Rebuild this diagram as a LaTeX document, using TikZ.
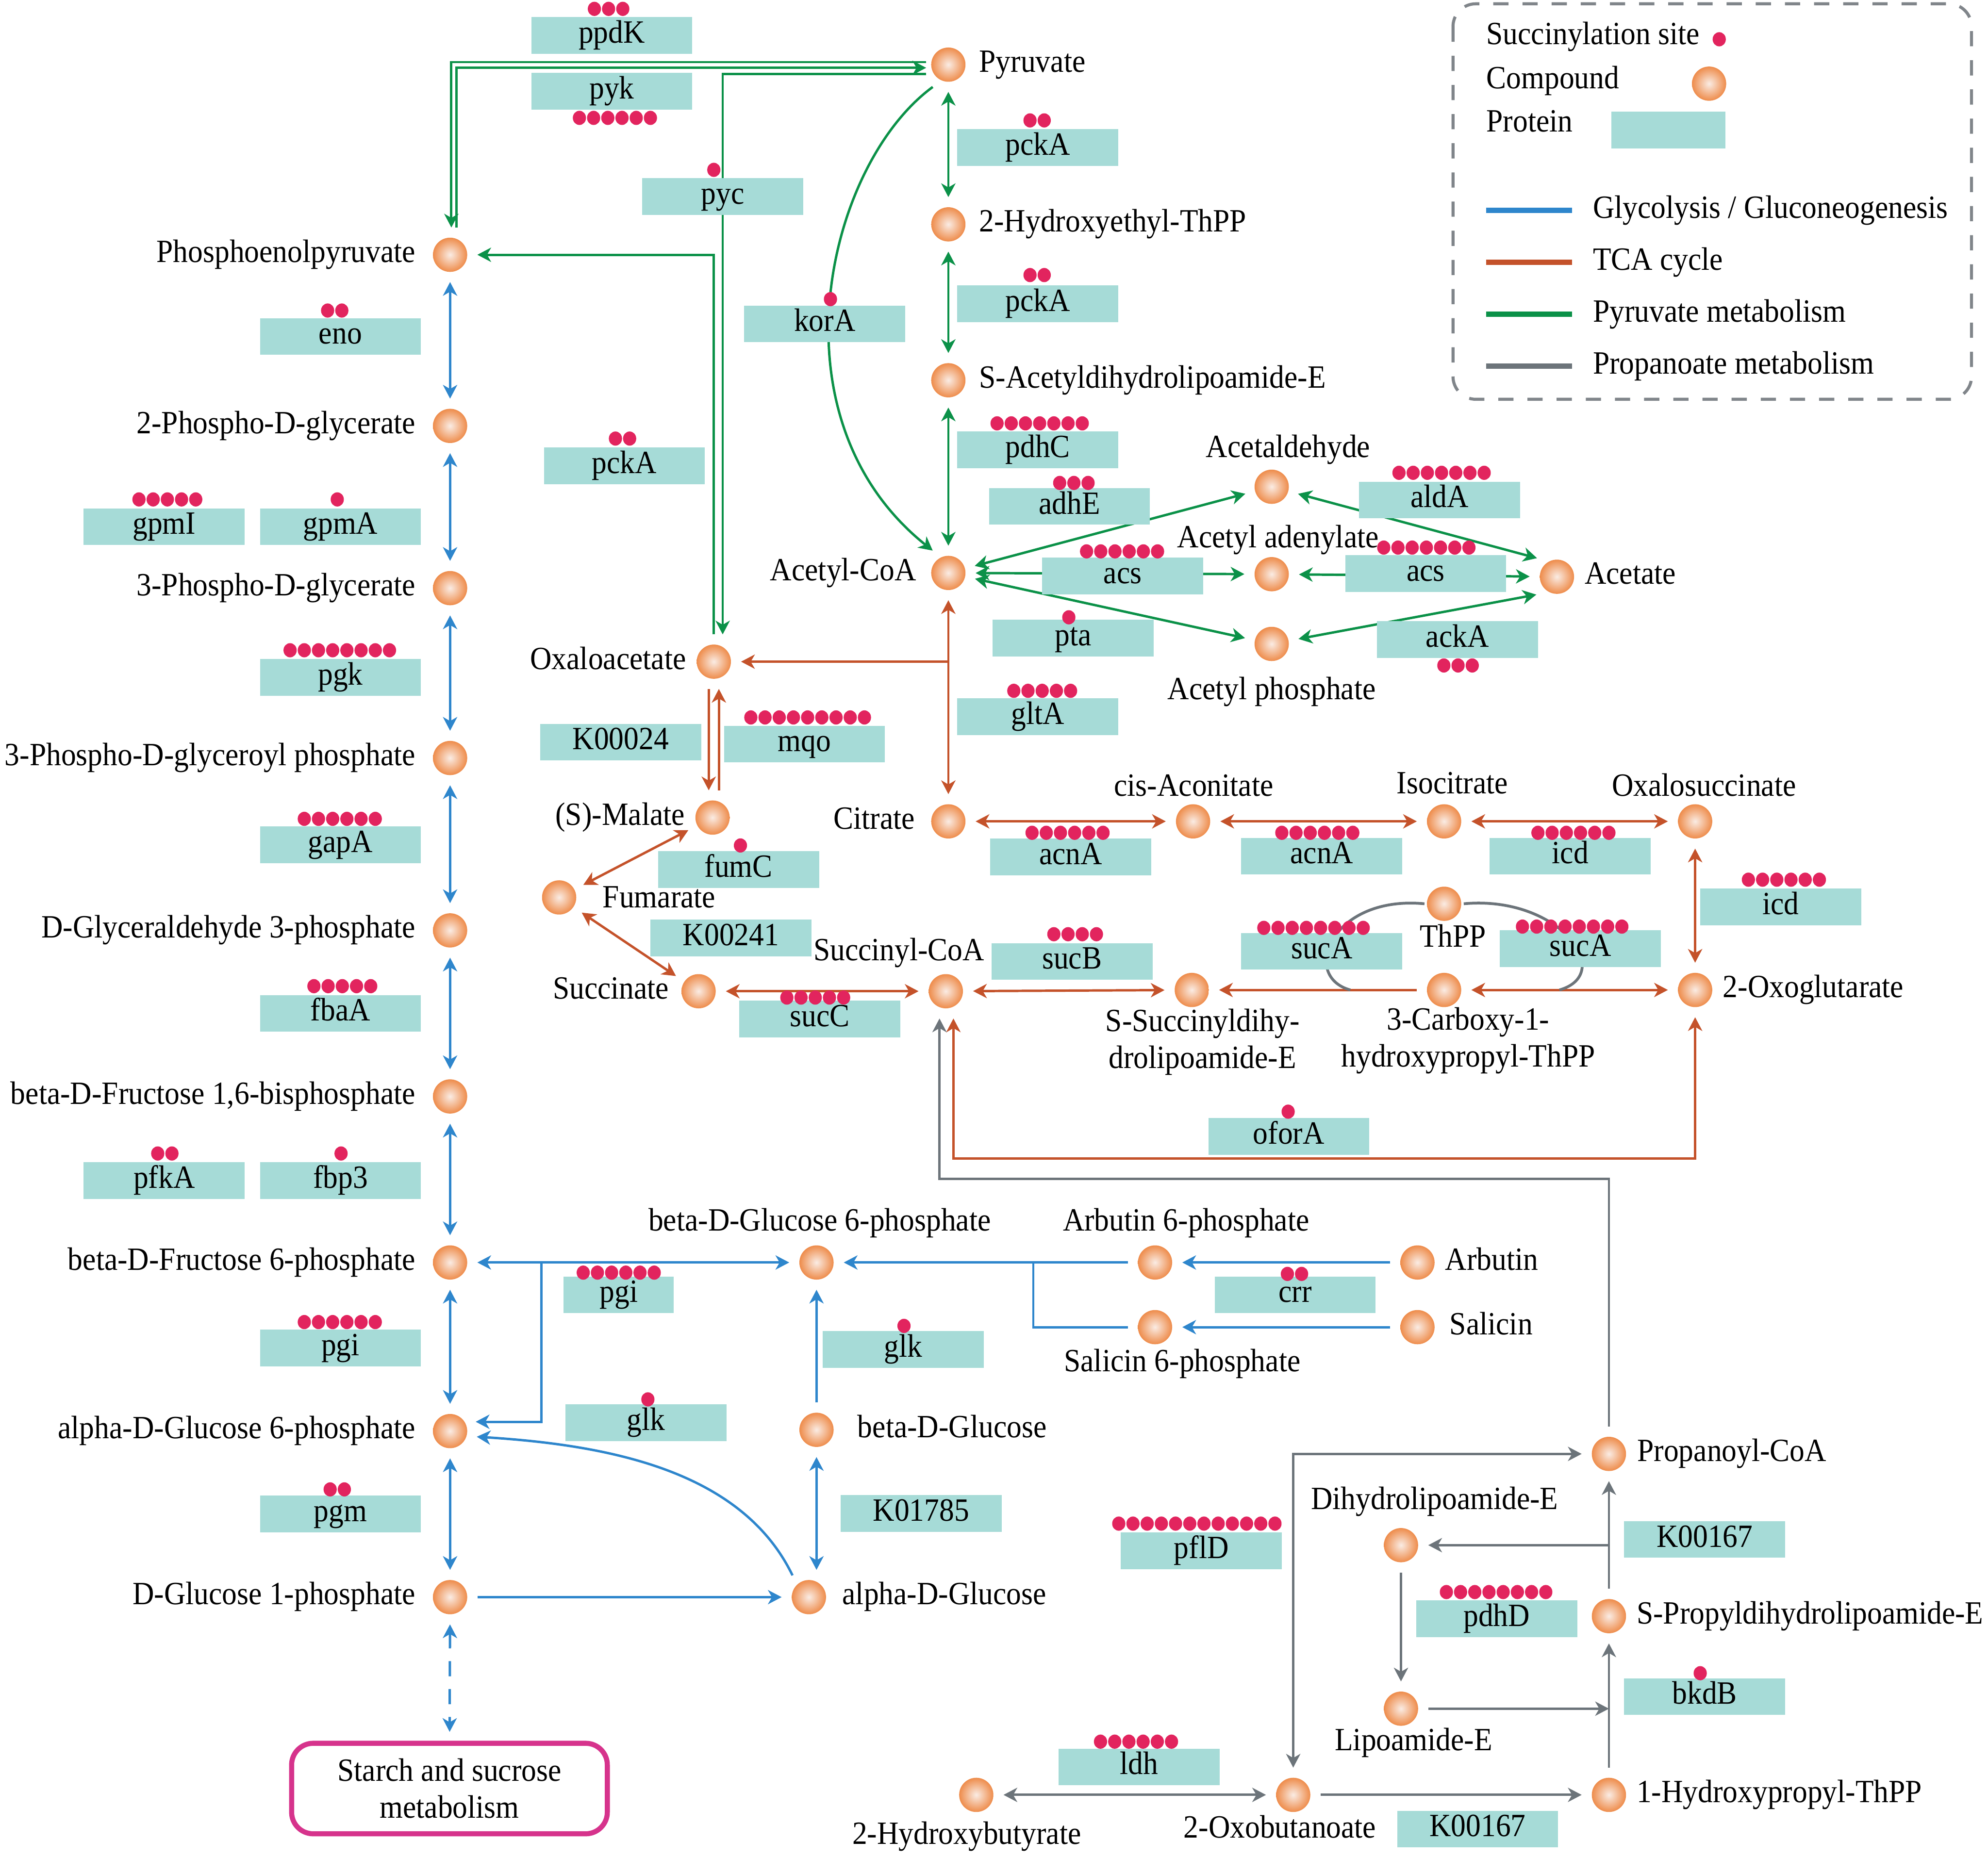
\documentclass[tikz,border=0pt]{standalone}
\usepackage{fontspec}
\setmainfont{Liberation Serif}[FakeStretch=0.92]
\usetikzlibrary{arrows.meta,positioning}

\definecolor{glycblue}{RGB}{46,134,204}
\definecolor{tcaorange}{RGB}{196,82,42}
\definecolor{pyrgreen}{RGB}{11,145,72}
\definecolor{propgray}{RGB}{108,116,122}
\definecolor{protfill}{RGB}{166,219,215}
\definecolor{sitered}{RGB}{226,36,94}
\definecolor{ballout}{RGB}{238,140,75}
\definecolor{ballin}{RGB}{250,236,228}
\definecolor{starchpink}{RGB}{214,51,140}
\definecolor{legendgray}{RGB}{128,133,138}

\newcommand{\mapfont}{\fontsize{12.8}{14.5}\selectfont}
\tikzset{
  cpd/.style={circle, minimum size=13.5pt, inner sep=0pt, outer sep=4pt,
    shading=radial, inner color=ballin, outer color=ballout},
  lbl/.style={font=\mapfont, inner sep=0pt, text height=8.7pt, text depth=2.8pt},
  lbltwo/.style={font=\mapfont, inner sep=0pt, align=center},
  prot/.style={fill=protfill, minimum width=63.5pt, minimum height=14.5pt,
    inner sep=0pt, font=\mapfont, text height=8.7pt, text depth=2.8pt},
  conn/.style={line width=0.95pt, >={Stealth[length=5.4pt,width=5.6pt,inset=1.6pt]}},
  glyc/.style={conn, glycblue},
  tca/.style={conn, tcaorange},
  pyrm/.style={conn, pyrgreen},
  prop/.style={conn, propgray},
}
% a row of succinylation sites: count, centre x, y
\newcommand{\sites}[3]{%
  \foreach \k in {1,...,#1}
    \fill[sitered] ({#2+(\k-(#1+1)/2)*11.2},#3) circle[x radius=2.6pt, y radius=2.8pt];}

\begin{document}
\begin{tikzpicture}[x=0.5pt, y=-0.5pt]
  \useasboundingbox (0,0) rectangle (1568,1465);

  % compounds
  \node[cpd] (pyr) at (748,51) {};
  \node[cpd] (hethpp) at (748,177) {};
  \node[cpd] (sacet) at (748,300) {};
  \node[cpd] (accoa) at (748,452) {};
  \node[cpd] (acald) at (1003,384) {};
  \node[cpd] (acadn) at (1003,453) {};
  \node[cpd] (acet) at (1228,455) {};
  \node[cpd] (acp) at (1003,508) {};
  \node[cpd] (pep) at (355,201) {};
  \node[cpd] (pg2) at (355,336) {};
  \node[cpd] (pg3) at (355,464) {};
  \node[cpd] (bpg) at (355,598) {};
  \node[cpd] (gald) at (355,734) {};
  \node[cpd] (fbp) at (355,865) {};
  \node[cpd] (f6p) at (355,996) {};
  \node[cpd] (ag6p) at (355,1129) {};
  \node[cpd] (g1p) at (355,1260) {};
  \node[cpd] (oaa) at (563,522) {};
  \node[cpd] (mal) at (562,645) {};
  \node[cpd] (fum) at (441,708) {};
  \node[cpd] (suc) at (551,782) {};
  \node[cpd] (succoa) at (746,782) {};
  \node[cpd] (cit) at (748,648) {};
  \node[cpd] (cisac) at (941,648) {};
  \node[cpd] (icit) at (1139,648) {};
  \node[cpd] (oxs) at (1337,648) {};
  \node[cpd] (ogl) at (1337,781) {};
  \node[cpd] (thpp) at (1139,713) {};
  \node[cpd] (chpthpp) at (1139,781) {};
  \node[cpd] (ssdl) at (940,781) {};
  \node[cpd] (bg6p) at (644,996) {};
  \node[cpd] (arb6p) at (911,996) {};
  \node[cpd] (sal6p) at (911,1047) {};
  \node[cpd] (arb) at (1118,996) {};
  \node[cpd] (sal) at (1118,1047) {};
  \node[cpd] (bglc) at (644,1128) {};
  \node[cpd] (aglc) at (638,1260) {};
  \node[cpd] (ppcoa) at (1269,1147) {};
  \node[cpd] (dhl) at (1105,1219) {};
  \node[cpd] (spdl) at (1269,1275) {};
  \node[cpd] (lipe) at (1105,1348) {};
  \node[cpd] (hpthpp) at (1269,1416) {};
  \node[cpd] (oxb) at (1020,1416) {};
  \node[cpd] (hbut) at (770,1416) {};
  \node[draw=starchpink, line width=2pt, rounded corners=8.5pt, minimum width=124.5pt,
    minimum height=35.7pt, align=center, font=\mapfont] (starch) at (354.5,1411)
    {Starch and sucrose\\metabolism};

  % compound names
  \node[lbl, right=1.25pt of pyr] (pyr-t) {Pyruvate};
  \node[lbl, right=1.25pt of hethpp] (hethpp-t) {2-Hydroxyethyl-ThPP};
  \node[lbl, right=1.25pt of sacet] (sacet-t) {S-Acetyldihydrolipoamide-E};
  \node[lbl, left=1.75pt of accoa] (accoa-t) {Acetyl-CoA};
  \node[lbl] (acald-t) at (1016,355) {Acetaldehyde};
  \node[lbl] (acadn-t) at (1008,426) {Acetyl adenylate};
  \node[lbl] (acp-t) at (1003,546) {Acetyl phosphate};
  \node[lbl, right=0pt of acet] (acet-t) {Acetate};
  \node[lbl, left=2.75pt of pep] (pep-t) {Phosphoenolpyruvate};
  \node[lbl, left=2.75pt of pg2] (pg2-t) {2-Phospho-D-glycerate};
  \node[lbl, left=2.75pt of pg3] (pg3-t) {3-Phospho-D-glycerate};
  \node[lbl, left=2.75pt of bpg] (bpg-t) {3-Phospho-D-glyceroyl phosphate};
  \node[lbl, left=2.75pt of gald] (gald-t) {D-Glyceraldehyde 3-phosphate};
  \node[lbl, left=2.75pt of fbp] (fbp-t) {beta-D-Fructose 1,6-bisphosphate};
  \node[lbl, left=2.75pt of f6p] (f6p-t) {beta-D-Fructose 6-phosphate};
  \node[lbl, left=2.75pt of ag6p] (ag6p-t) {alpha-D-Glucose 6-phosphate};
  \node[lbl, left=2.75pt of g1p] (g1p-t) {D-Glucose 1-phosphate};
  \node[lbl, left=0pt of oaa] (oaa-t) {Oxaloacetate};
  \node[lbl, left=0pt of mal] (mal-t) {(S)-Malate};
  \node[lbl, right=6.25pt of fum, yshift=-1pt] (fum-t) {Fumarate};
  \node[lbl, left=0.75pt of suc] (suc-t) {Succinate};
  \node[lbl] (succoa-t) at (709,752) {Succinyl-CoA};
  \node[lbl, left=2.25pt of cit] (cit-t) {Citrate};
  \node[lbl] (cisac-t) at (941.5,622) {cis-Aconitate};
  \node[lbl] (icit-t) at (1145.5,620) {Isocitrate};
  \node[lbl] (oxs-t) at (1344,622) {Oxalosuccinate};
  \node[lbl, right=0pt of ogl] (ogl-t) {2-Oxoglutarate};
  \node[lbl] (thpp-t) at (1146,741) {ThPP};
  \node[lbltwo] (ssdl-t) at (948.5,822) {S-Succinyldihy-\\drolipoamide-E};
  \node[lbltwo] (chpthpp-t) at (1158,821) {3-Carboxy-1-\\hydroxypropyl-ThPP};
  \node[lbl] (bg6p-t) at (646.5,965) {beta-D-Glucose 6-phosphate};
  \node[lbl] (arb6p-t) at (935.5,965) {Arbutin 6-phosphate};
  \node[lbl] (sal6p-t) at (932.5,1076) {Salicin 6-phosphate};
  \node[lbl, right=0pt of arb] (arb-t) {Arbutin};
  \node[lbl, right=1.75pt of sal] (sal-t) {Salicin};
  \node[lbl, right=5.25pt of bglc] (bglc-t) {beta-D-Glucose};
  \node[lbl, right=2.25pt of aglc] (aglc-t) {alpha-D-Glucose};
  \node[lbl, right=0.25pt of ppcoa] (ppcoa-t) {Propanoyl-CoA};
  \node[lbl] (dhl-t) at (1131.5,1185) {Dihydrolipoamide-E};
  \node[lbl, right=0pt of spdl] (spdl-t) {S-Propyldihydrolipoamide-E};
  \node[lbl] (lipe-t) at (1115,1375) {Lipoamide-E};
  \node[lbl, right=0pt of hpthpp] (hpthpp-t) {1-Hydroxypropyl-ThPP};
  \node[lbl] (oxb-t) at (1009.5,1444) {2-Oxobutanoate};
  \node[lbl] (hbut-t) at (762.5,1449) {2-Hydroxybutyrate};

  % glycolysis / gluconeogenesis
  \foreach \a/\b in {pep/pg2, pg2/pg3, pg3/bpg, bpg/gald, gald/fbp, fbp/f6p,
      f6p/ag6p, ag6p/g1p, f6p/bg6p}
    \draw[glyc,<->] (\a) -- (\b);
  \draw[glyc,<->,dash pattern=on 6pt off 5pt,shorten >=3.5pt] (g1p) -- (starch);
  \coordinate (pgiJ) at (427,996);
  \draw[glyc,->] (pgiJ) |- (ag6p.20);
  \draw[glyc,->] (aglc.127) .. controls (585,1160) and (480,1140) .. (ag6p.-12);
  \draw[glyc,->] (bglc) -- (bg6p);
  \draw[glyc,<->] (bglc.south) -- (bglc.south |- aglc.north);
  \draw[glyc,->] (g1p) -- (aglc);
  \draw[glyc,->] (arb6p) -- (bg6p);
  \coordinate (crrJ) at (815,996);
  \draw[glyc] (sal6p) -| (crrJ);
  \draw[glyc,->] (arb) -- (arb6p);
  \draw[glyc,->] (sal) -- (sal6p);

  % TCA cycle
  \foreach \a/\b in {accoa/cit, cit/cisac, cisac/icit, icit/oxs, oxs/ogl,
      ogl/chpthpp, succoa/ssdl, suc/succoa, suc/fum, fum/mal}
    \draw[tca,<->] (\a) -- (\b);
  \draw[tca,->] (chpthpp) -- (ssdl);
  \coordinate (citJ) at (748,522);
  \draw[tca,->] (citJ) -- (oaa);
  \coordinate (mqoL) at ([xshift=-2pt]oaa.south);
  \coordinate (mqoR) at ([xshift=2pt]oaa.south);
  \draw[tca,->] (mqoL) -- (mqoL |- mal.north);
  \draw[tca,->] (mqoR |- mal.north) -- (mqoR);
  \coordinate (oforJ) at (752,914);
  \draw[tca,<->] (succoa.south -| oforJ) -- (oforJ) -| (ogl.south);

  % pyruvate metabolism
  \foreach \a/\b in {pyr/hethpp, hethpp/sacet, sacet/accoa, accoa/acald,
      accoa/acadn, accoa/acp, acadn/acet}
    \draw[pyrm,<->] (\a) -- (\b);
  \draw[pyrm,<->] (acald) -- (acet.137);
  \draw[pyrm,<->] (acp) -- (acet.-139);
  \draw[pyrm,->] (pyr.235) .. controls (652,130) and (605,330) .. (accoa.125);
  \coordinate (pyrW) at ([xshift=2pt]pyr.west);
  \coordinate (ppdkJ) at (356,49);
  \coordinate (pykJ) at (360,53.5);
  \coordinate (pycJ) at (570,58.5);
  \draw[pyrm,->] (pyrW |- ppdkJ) -- (ppdkJ) -- (ppdkJ |- pep.north);
  \draw[pyrm,->] (pep.north -| pykJ) -- (pykJ) -- (pyrW |- pykJ);
  \draw[pyrm,->] (pyrW |- pycJ) -- (pycJ) -- (pycJ |- oaa.north);
  \draw[pyrm,->] (oaa.north) |- (pep.east);

  % propanoate metabolism
  \coordinate (ppJ) at (741,930);
  \draw[prop,->] (ppcoa.north) |- (ppJ) -- (ppJ |- succoa.south);
  \coordinate (thppW) at ([xshift=3pt]thpp.west);
  \coordinate (thppE) at ([xshift=-3pt]thpp.east);
  \coordinate (thppL) at (1065,781);
  \coordinate (thppR) at (1230,781);
  \draw[prop,line width=1.1pt] (thppW) .. controls (1050,706) and (1025,770) .. (thppL);
  \draw[prop,line width=1.1pt] (thppE) .. controls (1230,706) and (1275,768) .. (thppR);
  \draw[prop,->] (oxb) -- (hpthpp);
  \draw[prop,<->] (hbut) -- (oxb);
  \draw[prop,->] (hpthpp) -- (spdl);
  \draw[prop,->] (spdl) -- (ppcoa);
  \coordinate (kJ) at (1269,1219);
  \draw[prop,->] (kJ) -- (dhl);
  \draw[prop,->] (dhl) -- (lipe);
  \draw[prop,->] (lipe) -- (lipe -| spdl);
  \draw[prop,<->] (oxb.north) |- (ppcoa.west);

  % proteins
  \node[prot] (ppdK) at (482.5,28) {ppdK};          \sites{3}{480}{7}
  \node[prot] (pyk) at (482.5,72) {pyk};            \sites{6}{485}{93}
  \node[prot] (pyc) at (570,155) {pyc};             \sites{1}{563}{134}
  \node[prot] (korA) at (650.5,255.5) {korA};       \sites{1}{655}{236}
  \node[prot] (pckA-a) at (818.5,116.5) {pckA};     \sites{2}{818}{95}
  \node[prot] (pckA-b) at (818.5,239.5) {pckA};     \sites{2}{818}{217}
  \node[prot] (pdhC) at (818.5,355) {pdhC};         \sites{7}{820}{334}
  \node[prot] (adhE) at (843.5,399.5) {adhE};       \sites{3}{847}{381}
  \node[prot] (aldA) at (1135.5,394.5) {aldA};      \sites{7}{1137}{373}
  \node[prot] (acs-a) at (885.5,454.5) {acs};       \sites{6}{885}{435}
  \node[prot] (acs-b) at (1124.5,452.5) {acs};      \sites{7}{1125}{432}
  \node[prot] (pta) at (846.5,503.5) {pta};         \sites{1}{843}{487}
  \node[prot] (ackA) at (1149.5,504.5) {ackA};      \sites{3}{1150}{525}
  \node[prot] (gltA) at (818.5,565.5) {gltA};       \sites{5}{822}{545}
  \node[prot] (eno) at (268.5,265.5) {eno};         \sites{2}{264}{245}
  \node[prot] (pckA-c) at (492.5,367.5) {pckA};     \sites{2}{491}{346}
  \node[prot] (gpmI) at (129.5,415.5) {gpmI};       \sites{5}{132}{394}
  \node[prot] (gpmA) at (268.5,415.5) {gpmA};       \sites{1}{266}{394}
  \node[prot] (pgk) at (268.5,534.5) {pgk};         \sites{8}{268}{513}
  \node[prot] (kzero) at (489.5,585.5) {K00024};
  \node[prot] (mqo) at (634.5,587) {mqo};           \sites{9}{637}{566}
  \node[prot] (gapA) at (268.5,666.5) {gapA};       \sites{6}{268}{646}
  \node[prot] (fumC) at (582.5,686) {fumC};         \sites{1}{584}{667}
  \node[prot] (kfum) at (576.5,740) {K00241};
  \node[prot] (sucC) at (646.5,804) {sucC};         \sites{5}{643}{787}
  \node[prot] (acnA-a) at (844.5,676) {acnA};       \sites{6}{842}{657}
  \node[prot] (acnA-b) at (1042.5,675.5) {acnA};    \sites{6}{1039}{657}
  \node[prot] (icd-a) at (1238.5,675.5) {icd};      \sites{6}{1241}{657}
  \node[prot] (icd-b) at (1404.5,715.5) {icd};      \sites{6}{1407}{694}
  \node[prot] (sucB) at (845.5,758.5) {sucB};       \sites{4}{848}{737}
  \node[prot] (sucA-a) at (1042.5,750.5) {sucA};    \sites{8}{1036}{732}
  \node[prot] (sucA-b) at (1246.5,748.5) {sucA};    \sites{8}{1240}{731}
  \node[prot] (oforA) at (1016.5,896.5) {oforA};    \sites{1}{1016}{877}
  \node[prot] (fbaA) at (268.5,799.5) {fbaA};       \sites{5}{270}{778}
  \node[prot] (pfkA) at (129.5,931.5) {pfkA};       \sites{2}{130}{910}
  \node[prot] (fbp3) at (268.5,931.5) {fbp3};       \sites{1}{269}{910}
  \node[prot, minimum width=43.5pt] (pgi-a) at (488,1021.5) {pgi}; \sites{6}{488}{1004}
  \node[prot] (pgi-b) at (268.5,1063.5) {pgi};      \sites{6}{268}{1043}
  \node[prot] (crr) at (1021.5,1021.5) {crr};       \sites{2}{1021}{1005}
  \node[prot] (glk-a) at (712.5,1064.5) {glk};      \sites{1}{713}{1046}
  \node[prot] (glk-b) at (509.5,1122.5) {glk};      \sites{1}{511}{1104}
  \node[prot] (pgm) at (268.5,1194.5) {pgm};        \sites{2}{266}{1175}
  \node[prot] (kglc) at (726.5,1194) {K01785};
  \node[prot] (pflD) at (947.5,1223.5) {pflD};      \sites{12}{944}{1202}
  \node[prot] (kpro-a) at (1344.5,1214.5) {K00167};
  \node[prot] (pdhD) at (1180.5,1277) {pdhD};       \sites{8}{1180}{1256}
  \node[prot] (bkdB) at (1344.5,1338.5) {bkdB};     \sites{1}{1341}{1320}
  \node[prot] (ldh) at (898.5,1394) {ldh};          \sites{6}{896}{1374}
  \node[prot] (kpro-b) at (1165.5,1443) {K00167};

  % legend
  \draw[legendgray, line width=1.2pt, dash pattern=on 6pt off 5.5pt, rounded corners=9pt]
    (1146,3) rectangle (1555,315);
  \node[lbl, anchor=west] (leg-site) at (1172,29) {Succinylation site};
  \sites{1}{1356}{31}
  \node[lbl, anchor=west] (leg-cpd) at (1172,64) {Compound};
  \node[cpd] (legcpd) at (1348,66) {};
  \node[lbl, anchor=west] (leg-prot) at (1172,98) {Protein};
  \node[prot, minimum width=45pt] (legprot) at (1316,102.5) {};
  \foreach \c/\y/\t in {glycblue/166/{Glycolysis / Gluconeogenesis}, tcaorange/207/{TCA cycle},
      pyrgreen/248/{Pyruvate metabolism}, propgray/289/{Propanoate metabolism}} {
    \draw[\c, line width=2.1pt] (1172,\y) -- (1240,\y);
    \node[lbl, anchor=west] at (1256,\y) {\t};
  }
\end{tikzpicture}
\end{document}
